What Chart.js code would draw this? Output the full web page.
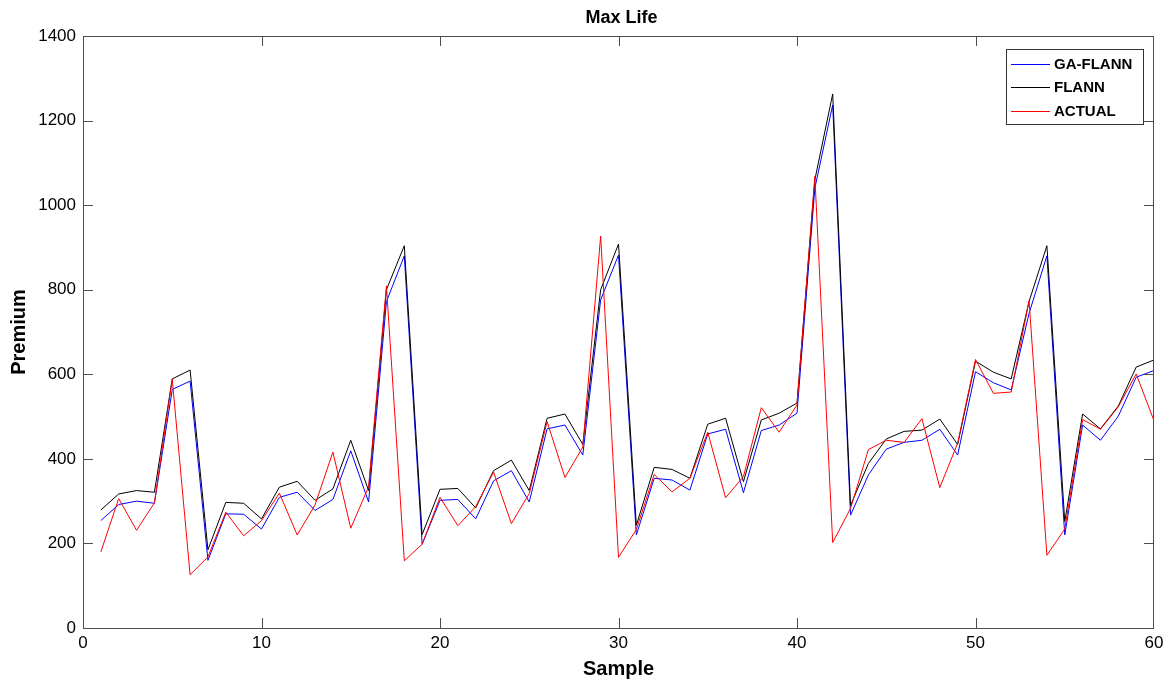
<!DOCTYPE html>
<html>
<head>
<meta charset="utf-8">
<script src="https://cdn.jsdelivr.net/npm/chart.js@4/dist/chart.umd.min.js"></script>
<style>
  html, body { margin: 0; padding: 0; background: #fff; }
  #wrap { width: 1170px; height: 684px; }
</style>
</head>
<body>
<div id="wrap"><canvas id="chart" width="1170" height="684"></canvas></div>
<script>
// Datos
const chartTitle = 'Max Life';
const samples = [1,2,3,4,5,6,7,8,9,10,11,12,13,14,15,16,17,18,19,20,
  21,22,23,24,25,26,27,28,29,30,31,32,33,34,35,36,37,38,39,40,
  41,42,43,44,45,46,47,48,49,50,51,52,53,54,55,56,57,58,59,60];

const gaFlann = [254,292,300,295,564,584,160,270,269,234,309,321,278,304,419,298,772,880,198,302,
  304,258,348,372,298,471,480,409,776,882,220,354,350,326,459,470,320,467,480,508,
  1040,1237,267,362,423,439,444,470,409,606,580,563,744,880,220,480,444,501,593,609];

const flann = [279,317,325,321,589,610,185,297,295,258,333,347,302,329,444,325,800,904,221,328,
  330,284,372,397,325,496,506,434,800,908,243,380,375,354,482,496,346,492,508,532,
  1060,1263,290,389,447,465,468,494,434,631,605,589,772,904,252,506,471,525,617,634];

const actual = [180,306,231,296,588,126,168,274,218,254,319,220,291,416,236,334,809,159,198,309,
  242,287,369,247,318,488,356,428,927,167,233,363,322,354,463,308,358,521,463,528,
  1068,202,283,422,444,439,495,332,437,635,555,558,774,172,234,493,470,523,601,490];

const seriesNames = ['GA-FLANN', 'FLANN', 'ACTUAL'];
const seriesColors = ['#0000ff', '#000000', '#ff0000'];
const xTicks = [0, 10, 20, 30, 40, 50, 60];
const yTicks = [0, 200, 400, 600, 800, 1000, 1200, 1400];

const FONT = "'Liberation Sans', Arial, Helvetica, sans-serif";

function toPoints(values) {
  return samples.map((s, i) => ({ x: s, y: values[i] }));
}

// Caja, marcas interiores, titulo y leyenda al estilo MATLAB
const boxPlugin = {
  id: 'matlabBox',
  afterDraw(chart) {
    const { ctx, chartArea: a, scales: { x, y } } = chart;
    const tick = 10;
    ctx.save();
    ctx.strokeStyle = '#4d4d4d';
    ctx.lineWidth = 1;
    ctx.strokeRect(a.left + 0.5, a.top + 0.5, a.right - a.left - 1, a.bottom - a.top);
    ctx.beginPath();
    xTicks.forEach(v => {
      const px = Math.min(Math.round(x.getPixelForValue(v)), a.right - 1) + 0.5;
      ctx.moveTo(px, a.bottom); ctx.lineTo(px, a.bottom - tick);
      ctx.moveTo(px, a.top); ctx.lineTo(px, a.top + tick);
    });
    yTicks.forEach(v => {
      const py = Math.round(y.getPixelForValue(v)) + 0.5;
      ctx.moveTo(a.left, py); ctx.lineTo(a.left + tick, py);
      ctx.moveTo(a.right, py); ctx.lineTo(a.right - tick, py);
    });
    ctx.stroke();

    // titulo
    ctx.fillStyle = '#000';
    ctx.font = 'bold 18px ' + FONT;
    ctx.textAlign = 'center';
    ctx.textBaseline = 'alphabetic';
    ctx.fillText(chartTitle, (a.left + a.right) / 2 + 3, 23);

    // leyenda
    const lx = a.right - 148, ly = a.top + 13, lw = 137, lh = 75;
    ctx.fillStyle = '#fff';
    ctx.fillRect(lx, ly, lw, lh);
    ctx.strokeStyle = '#333';
    ctx.strokeRect(lx + 0.5, ly + 0.5, lw, lh);
    ctx.font = 'bold 15px ' + FONT;
    ctx.textAlign = 'left';
    ctx.textBaseline = 'middle';
    chart.data.datasets.forEach((ds, i) => {
      const ry = ly + 14.5 + i * 23.8;
      ctx.strokeStyle = ds.borderColor;
      ctx.beginPath();
      ctx.moveTo(lx + 5, Math.round(ry) + 0.5);
      ctx.lineTo(lx + 44, Math.round(ry) + 0.5);
      ctx.stroke();
      ctx.fillStyle = '#000';
      ctx.fillText(ds.label, lx + 48, ry + 1);
    });
    ctx.restore();
  }
};

const ctx = document.getElementById('chart').getContext('2d');
const chart = new Chart(ctx, {
  type: 'line',
  data: {
    datasets: [
      { label: seriesNames[0], data: toPoints(gaFlann), borderColor: seriesColors[0], order: 3 },
      { label: seriesNames[1], data: toPoints(flann), borderColor: seriesColors[1], order: 2 },
      { label: seriesNames[2], data: toPoints(actual), borderColor: seriesColors[2], order: 1 }
    ]
  },
  options: {
    responsive: false,
    animation: false,
    devicePixelRatio: 1,
    elements: {
      line: { borderWidth: 1, tension: 0, fill: false },
      point: { radius: 0 }
    },
    layout: { padding: { top: 36, right: 16, bottom: 0, left: 0 } },
    scales: {
      x: {
        type: 'linear',
        min: 0,
        max: 60,
        afterBuildTicks: s => { s.ticks = xTicks.map(v => ({ value: v })); },
        afterFit: s => { s.height = 56; },
        grid: { display: false, drawTicks: false },
        border: { display: false },
        ticks: { color: '#000', font: { size: 17, family: FONT }, padding: 5, maxRotation: 0,
          callback: v => String(v) },
        title: { display: true, text: 'Sample', color: '#000', font: { size: 20, weight: 'bold', family: FONT }, padding: { top: 0, bottom: 3 } }
      },
      y: {
        type: 'linear',
        min: 0,
        max: 1400,
        afterBuildTicks: s => { s.ticks = yTicks.map(v => ({ value: v })); },
        afterFit: s => { s.width = 83; },
        grid: { display: false, drawTicks: false },
        border: { display: false },
        ticks: { color: '#000', font: { size: 17, family: FONT }, padding: 7,
          callback: v => String(v) },
        title: { display: true, text: 'Premium', color: '#000', font: { size: 20, weight: 'bold', family: FONT }, padding: { top: 7, bottom: 0 } }
      }
    },
    plugins: {
      legend: { display: false },
      tooltip: { enabled: false },
      title: { display: false }
    }
  },
  plugins: [boxPlugin]
});
</script>
</body>
</html>
